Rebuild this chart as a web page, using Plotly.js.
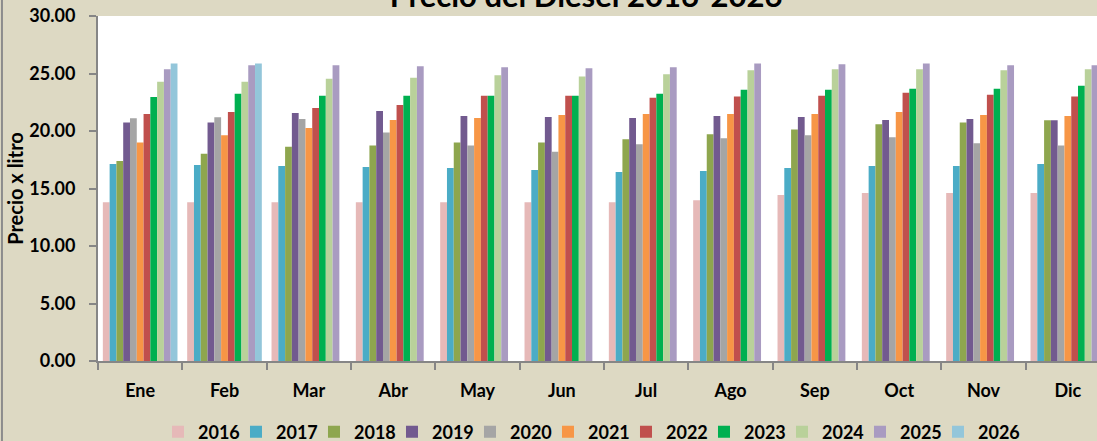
<!DOCTYPE html>
<html>
<head>
<meta charset="utf-8">
<script src="https://cdn.plot.ly/plotly-3.0.1.min.js"></script>
<style>
html, body { margin: 0; padding: 0; width: 1097px; height: 441px; overflow: hidden; background: #DDD9C3; }
#chart { position: absolute; left: 0; top: -20px; width: 1115px; height: 461px; }
</style>
</head>
<body>
<div id="chart"></div>
<script>
const months = ["Ene","Feb","Mar","Abr","May","Jun","Jul","Ago","Sep","Oct","Nov","Dic"];
const years = ["2016","2017","2018","2019","2020","2021","2022","2023","2024","2025","2026"];
const v2016 = [13.80,13.80,13.80,13.80,13.80,13.80,13.80,13.97,14.43,14.61,14.61,14.61];
const v2017 = [17.13,17.04,16.96,16.87,16.78,16.61,16.43,16.52,16.78,16.96,16.96,17.13];
const v2018 = [17.39,18.03,18.64,18.75,18.99,18.99,19.28,19.71,20.14,20.58,20.75,20.93];
const v2019 = [20.75,20.75,21.57,21.74,21.30,21.22,21.13,21.30,21.22,20.96,21.04,20.93];
const v2020 = [21.10,21.19,21.04,19.88,18.75,18.20,18.84,19.36,19.62,19.45,18.93,18.75];
const v2021 = [19.01,19.62,20.26,20.96,21.13,21.39,21.48,21.48,21.48,21.65,21.39,21.30];
const v2022 = [21.48,21.65,22.00,22.26,23.07,23.07,22.90,22.99,23.07,23.33,23.16,22.99];
const v2023 = [22.96,23.25,23.07,23.07,23.07,23.07,23.25,23.59,23.59,23.68,23.68,23.94];
const v2024 = [24.29,24.29,24.55,24.64,24.84,24.75,24.93,25.28,25.36,25.36,25.28,25.36];
const v2025 = [25.36,25.71,25.71,25.62,25.54,25.45,25.54,25.88,25.80,25.88,25.71,25.71];
const v2026 = [25.88,25.88,null,null,null,null,null,null,null,null,null,null];
const seriesValues = [v2016,v2017,v2018,v2019,v2020,v2021,v2022,v2023,v2024,v2025,v2026];
const colors = ["#E6B9B8","#4BACC6","#8EA64E","#725A8F","#A5A5A5","#F79646","#C0504D","#00B050","#B9D19A","#A99BC1","#93C6DA"];

const FONT = "Lato, 'Open Sans', sans-serif";
const traces = years.map((y, i) => ({
  type: "bar",
  name: y,
  x: months,
  y: seriesValues[i],
  marker: { color: colors[i], line: { width: 0 } },
  hoverinfo: "x+y+name"
}));
// invisible spacer legend entry (on hidden axes) so the last legend label is not clipped
traces.push({
  type: "scatter", mode: "markers", name: "\u00a0", x: [0], y: [null],
  xaxis: "x2", yaxis: "y2",
  marker: { color: "rgba(0,0,0,0)", size: 1 }, hoverinfo: "skip", showlegend: true
});

const layout = {
  width: 1115,
  height: 461,
  paper_bgcolor: "#DDD9C3",
  plot_bgcolor: "#FFFFFF",
  margin: { l: 98, r: 5, t: 36, b: 80 },
  barmode: "group",
  bargap: 0.115,
  bargroupgap: 0,
  font: { family: FONT, color: "#000000" },
  title: {
    text: "<b>Precio del Diesel 2016-2026</b>",
    font: { family: FONT, size: 31, color: "#000000" },
    xref: "container", yref: "container",
    x: 0.5256, xanchor: "center",
    y: 0.965, yanchor: "middle"
  },
  xaxis: {
    type: "category",
    showgrid: false,
    showline: true, linecolor: "#868686", linewidth: 2,
    ticks: "outside", ticklen: 7, tickcolor: "#868686", tickwidth: 2,
    tickson: "boundaries",
    ticklabelstandoff: 12,
    tickfont: { family: FONT, size: 18, color: "#000000", weight: "bold" },
    fixedrange: true
  },
  yaxis: {
    range: [0, 30],
    dtick: 5,
    tickformat: ".2f",
    showgrid: false,
    zeroline: false,
    showline: true, linecolor: "#868686", linewidth: 2,
    ticks: "outside", ticklen: 7, tickcolor: "#868686", tickwidth: 2,
    ticklabelstandoff: 10,
    tickfont: { family: FONT, size: 18, color: "#000000", weight: "bold" },
    title: { text: "<b>Precio x litro</b>", font: { family: FONT, size: 20, color: "#000000" }, standoff: 0 },
    fixedrange: true
  },
  xaxis2: { overlaying: "x", visible: false, range: [0, 1], fixedrange: true },
  yaxis2: { overlaying: "y", visible: false, range: [0, 1], fixedrange: true },
  showlegend: true,
  legend: {
    orientation: "h",
    xref: "container", yref: "container",
    x: 0.1417, xanchor: "left",
    y: 0.0195, yanchor: "middle",
    bgcolor: "rgba(0,0,0,0)",
    font: { family: FONT, size: 18, color: "#000000", weight: "bold" },
    entrywidth: 33, entrywidthmode: "pixels",
    traceorder: "normal"
  },
  shapes: [
    { type: "line", xref: "paper", yref: "paper", x0: -0.0949, x1: -0.0949, y0: -0.5, y1: 1.5,
      line: { color: "#8C8C8C", width: 2 } }
  ]
};

Plotly.newPlot("chart", traces, layout, { displayModeBar: false, staticPlot: true });
</script>
</body>
</html>
